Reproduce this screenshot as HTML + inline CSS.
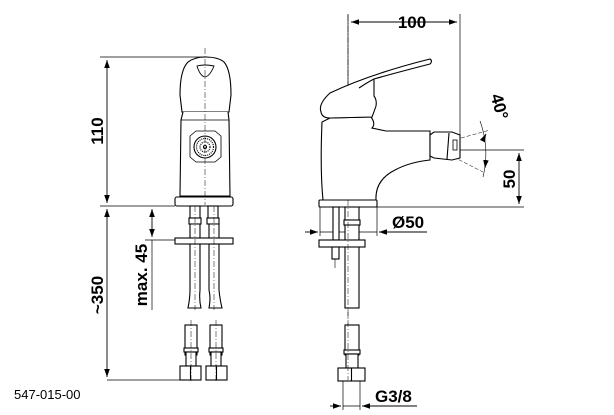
<!DOCTYPE html>
<html><head><meta charset="utf-8"><style>
html,body{margin:0;padding:0;background:#fff;}
svg{display:block;}
text{font-family:"Liberation Sans",sans-serif;fill:#000;}
</style></head><body>
<svg width="614" height="415" viewBox="0 0 614 415" xmlns="http://www.w3.org/2000/svg">
<defs>
<marker id="a" viewBox="0 0 10 10" refX="10" refY="5" markerWidth="8" markerHeight="8" orient="auto-start-reverse" markerUnits="userSpaceOnUse"><path d="M0,1.5 L10,5 L0,8.5Z" fill="#000"/></marker>
</defs>
<g stroke="#000" stroke-width="0.7" fill="none">
<line x1="100" y1="57" x2="205" y2="57"/>
<line x1="100" y1="206" x2="175" y2="206"/>
<line x1="107" y1="60" x2="107" y2="203" marker-start="url(#a)" marker-end="url(#a)" stroke-width="0.9"/>
<line x1="107" y1="209" x2="107" y2="377" marker-start="url(#a)" marker-end="url(#a)" stroke-width="0.9"/>
<line x1="107" y1="380" x2="180" y2="380"/>
<line x1="145" y1="240" x2="190" y2="240"/>
<line x1="152" y1="209" x2="152" y2="237" marker-start="url(#a)" marker-end="url(#a)" stroke-width="0.9"/>
<line x1="152" y1="240" x2="152" y2="310"/>
</g>
<g stroke="#000" stroke-width="1.1" fill="#fff">
<path d="M182,112 L180,95 Q180,70 188,62 Q195,57 205,57 Q218,57 224,62 Q231,70 231,95 L229,112 Z"/>
<path d="M197,66 Q205,64 214,66 Q210,76 205,77 Q200,76 197,66Z" stroke-width="0.9"/>
<path d="M183,112 L181,120 L180,196 L230,196 L229,120 L228,112"/>
<line x1="181" y1="120" x2="229" y2="120" stroke-width="0.7"/>
<path d="M190,136 L196,131 L215,131 L221,136 L221,157 L215,162 L196,162 L190,157Z" stroke-width="0.8"/>
<circle cx="205" cy="147" r="11"/>
<circle cx="205" cy="147" r="8.5" stroke-dasharray="1 1" stroke-width="1.2"/>
<circle cx="205" cy="147" r="5" stroke-dasharray="1 1" stroke-width="1.2"/>
<circle cx="205" cy="147" r="1.5"/>
<rect x="175" y="197" width="58" height="9" rx="2"/>
<rect x="190" y="206" width="10" height="14"/>
<rect x="208" y="206" width="10" height="14"/>
<rect x="189" y="218" width="12" height="6"/>
<rect x="207" y="218" width="12" height="6"/>
<path d="M190,224 L200,224 L200,290 Q199,300 201,308 L188,308 Q190,298 190,290Z"/>
<path d="M208,224 L218,224 L218,290 Q219,300 221,308 L208,308 Q210,298 208,290Z" transform="translate(1,0)"/>
<rect x="175" y="238" width="58" height="6"/>
<rect x="185" y="325" width="12" height="30"/>
<rect x="210" y="325" width="12" height="30"/>
<rect x="184" y="348" width="14" height="4"/>
<rect x="209" y="348" width="14" height="4"/>
<rect x="186" y="352" width="10" height="14"/>
<rect x="211" y="352" width="10" height="14"/>
<rect x="180" y="366" width="21" height="14"/>
<rect x="206" y="366" width="21" height="14"/>
<line x1="190.5" y1="366" x2="190.5" y2="380"/>
<line x1="216.5" y1="366" x2="216.5" y2="380"/>
</g>
<g stroke="#000" stroke-width="0.5" stroke-dasharray="6 2 1 2" fill="none">
<line x1="205" y1="48" x2="205" y2="205"/>
<line x1="195" y1="206" x2="195" y2="310"/>
<line x1="214" y1="206" x2="214" y2="310"/>
<line x1="191" y1="320" x2="191" y2="382"/>
<line x1="216" y1="320" x2="216" y2="382"/>
<line x1="348" y1="15" x2="348" y2="380"/>
<line x1="430" y1="148" x2="385" y2="145"/>
</g>
<g stroke="#000" stroke-width="0.7" fill="none">
<line x1="348" y1="14" x2="348" y2="120"/>
<line x1="460" y1="14" x2="460" y2="150"/>
<line x1="351" y1="22" x2="457" y2="22" marker-start="url(#a)" marker-end="url(#a)" stroke-width="0.9"/>
<line x1="460" y1="150" x2="524" y2="150"/>
<line x1="377" y1="207" x2="524" y2="207"/>
<line x1="519" y1="153" x2="519" y2="204" marker-start="url(#a)" marker-end="url(#a)" stroke-width="0.9"/>
<line x1="320" y1="207" x2="320" y2="236"/>
<line x1="377" y1="207" x2="377" y2="236"/>
<line x1="305" y1="232" x2="318" y2="232" marker-end="url(#a)" stroke-width="0.9"/>
<line x1="320" y1="232" x2="377" y2="232"/>
<line x1="427" y1="232" x2="379" y2="232" marker-end="url(#a)" stroke-width="0.9"/>
<line x1="343" y1="381" x2="343" y2="410"/>
<line x1="360" y1="381" x2="360" y2="410"/>
<line x1="330" y1="406" x2="341" y2="406" marker-end="url(#a)" stroke-width="0.9"/>
<line x1="343" y1="406" x2="360" y2="406"/>
<line x1="417" y1="406" x2="362" y2="406" marker-end="url(#a)" stroke-width="0.9"/>
<path d="M480,121 Q490,148 483,177" stroke-width="0.6"/>
<line x1="485" y1="136" x2="486" y2="134" marker-end="url(#a)" stroke-width="0.9"/>
<line x1="486" y1="160" x2="485" y2="168" marker-end="url(#a)" stroke-width="0.9"/>
<line x1="432" y1="146" x2="490" y2="130" stroke-dasharray="4 2" stroke-width="0.5"/>
<line x1="432" y1="146" x2="483" y2="172" stroke-dasharray="4 2" stroke-width="0.5"/>
</g>
<g stroke="#000" stroke-width="1.1" fill="#fff">
<path d="M322,122 L330,118 L371,117 Q376,124 372,128 L386,131 L430,131 L430,160 Q410,162 395,170 Q375,180 376,200 L323,200 Q320,170 322,122Z"/>
<path d="M321,112 Q318,104 330,93 Q370,74 430,59 Q433,61 430,64 Q395,73 374,79 L374,96 Q377,100 376,106 Q374,112 372,117 L330,118 Q322,118 321,112Z"/>
<path d="M359,88 Q368,82 374,79" fill="none"/>
<rect x="319" y="200" width="58" height="7" rx="1"/>
<path d="M430,135 L434,132 L452,132 L460,135 L460,158 L452,160 L434,158 L430,156Z"/>
<line x1="449" y1="133" x2="447" y2="159"/>
<rect x="453" y="140" width="4" height="10" stroke-width="0.8"/>
<rect x="333" y="207" width="6" height="33"/>
<rect x="345" y="207" width="14" height="101"/>
<rect x="344" y="220" width="16" height="5"/>
<rect x="319" y="240" width="46" height="7"/>
<rect x="332" y="247" width="7" height="12"/>
<line x1="335" y1="259" x2="335" y2="268" stroke-width="0.6"/>
<rect x="345" y="325" width="14" height="30"/>
<rect x="344" y="350" width="16" height="4"/>
<rect x="346" y="354" width="12" height="14"/>
<rect x="338" y="368" width="27" height="13"/>
<line x1="351.5" y1="368" x2="351.5" y2="381"/>
</g>
<line x1="348" y1="200" x2="348" y2="380" stroke="#000" stroke-width="0.5" stroke-dasharray="6 2 1 2"/>
<g font-size="17" font-weight="bold">
<text x="412" y="28" text-anchor="middle">100</text>
<text transform="translate(103,131) rotate(-90)" text-anchor="middle">110</text>
<text transform="translate(103,295) rotate(-90)" text-anchor="middle">~350</text>
<text transform="translate(147,275) rotate(-90)" text-anchor="middle">max. 45</text>
<text transform="translate(515,179) rotate(-90)" text-anchor="middle">50</text>
<text transform="translate(494,108) rotate(75)" text-anchor="middle">40°</text>
<text x="392" y="228">Ø50</text>
<text x="375" y="402">G3/8</text>
</g>
<text x="14" y="399" font-size="13">547-015-00</text>
</svg>
</body></html>
